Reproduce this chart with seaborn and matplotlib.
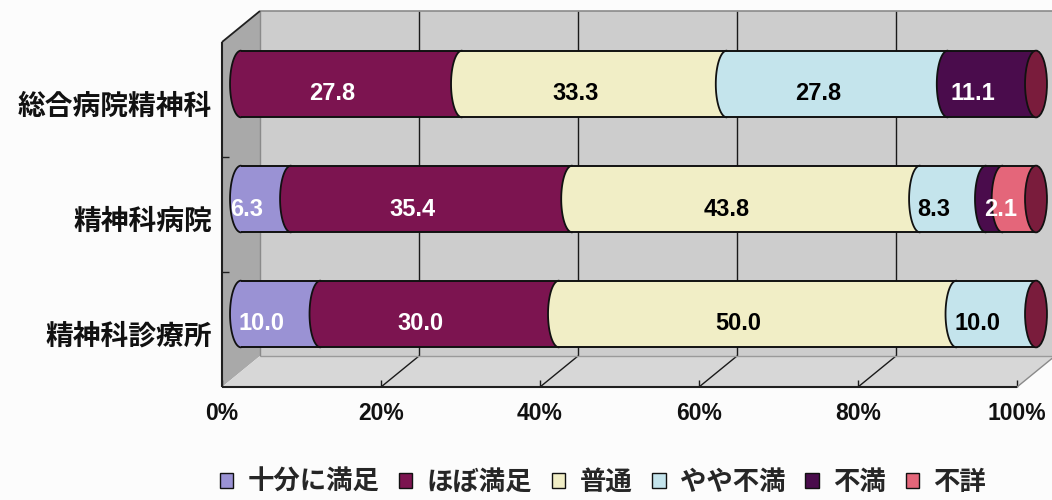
import numpy as np
import pandas as pd
import matplotlib
matplotlib.use("Agg")
import matplotlib.pyplot as plt
import matplotlib.transforms as mtrans
from matplotlib.patches import Polygon, Ellipse, Patch
import seaborn as sns

# ---- data -------------------------------------------------------------
categories = ["総合病院精神科", "精神科病院", "精神科診療所"]
series_names = ["十分に満足", "ほぼ満足", "普通", "やや不満", "不満", "不詳"]
very_satisfied = [0.0, 6.3, 10.0]
mostly_satisfied = [27.8, 35.4, 30.0]
neutral = [33.3, 43.8, 50.0]
somewhat_dissatisfied = [27.8, 8.3, 10.0]
dissatisfied = [11.1, 2.1, 0.0]
unknown = [0.0, 4.2, 0.0]
tick_values = [0, 20, 40, 60, 80, 100]
tick_labels = ["0%", "20%", "40%", "60%", "80%", "100%"]

# ---- style ------------------------------------------------------------
colors = ["#9a92d4", "#7c1450", "#f1eec6", "#c4e4ec", "#4a0c4c", "#e4667a"]
label_colors = ["white", "white", "black", "black", "white", "white"]
show_labels = [True, True, True, True, True, False]
cap_color = "#7a1c3c"

sns.set_style("white")
plt.rcParams["font.family"] = ["Noto Sans CJK JP", "DejaVu Sans"]
NUM_FONT = ["Liberation Sans", "DejaVu Sans"]

values = np.array([very_satisfied, mostly_satisfied, neutral,
                   somewhat_dissatisfied, dissatisfied, unknown])
shares = values / values.sum(axis=0) * 100.0   # 100% stacked
ends = np.cumsum(shares, axis=0)
starts = ends - shares

fig = plt.figure(figsize=(10.52, 5.0), dpi=100)
fig.patch.set_facecolor("#fcfcfc")
ax = fig.add_axes([241 / 1052, 1 - 371.5 / 500, 795 / 1052, 345 / 500])
ax.set_facecolor("none")

BAR_W = 0.58
# stacked bars: draw cumulative totals from the outermost series inward
for k in range(len(series_names) - 1, -1, -1):
    df = pd.DataFrame({"category": categories, "total": ends[k]})
    sns.barplot(data=df, x="total", y="category", color=colors[k],
                saturation=1, width=BAR_W, errorbar=None, linewidth=0,
                ax=ax, zorder=1)

ax.set_xlim(0, 100)
ax.set_ylim(2.5, -0.5)
ax.set_xlabel("")
ax.set_ylabel("")
for s in ax.spines.values():
    s.set_visible(False)

# ---- pseudo 3-D frame: back wall, side wall, floor ----------------------
DX, DY = 2.39, 0.135
y0, y1 = -0.5, 2.5
frame_kw = dict(closed=True, clip_on=False, linewidth=0)
ax.add_patch(Polygon([(DX, y0 - DY), (100 + DX, y0 - DY), (100 + DX, y1 - DY), (DX, y1 - DY)],
                     facecolor="#cdcdcd", zorder=0, **frame_kw))
ax.add_patch(Polygon([(-DX, y0 + DY), (DX, y0 - DY), (DX, y1 - DY), (-DX, y1 + DY)],
                     facecolor="#a9a9a9", zorder=0, **frame_kw))
ax.add_patch(Polygon([(-DX, y1 + DY), (100 - DX, y1 + DY), (100 + DX, y1 - DY), (DX, y1 - DY)],
                     facecolor="#d7d7d7", zorder=0, **frame_kw))

line_kw = dict(clip_on=False, solid_capstyle="butt")
for t in tick_values[1:-1]:
    ax.plot([t + DX, t + DX], [y0 - DY, y1 - DY], color="#1a1a1a", lw=1.0, zorder=0.5, **line_kw)
    ax.plot([t + DX, t - DX], [y1 - DY, y1 + DY], color="#1a1a1a", lw=1.0, zorder=0.5, **line_kw)
for t in tick_values:
    ax.plot([t - DX, t - DX], [y1 + DY, y1 + DY - 0.06], color="#1a1a1a", lw=1.0, zorder=0.5, **line_kw)
ax.plot([DX, 100 + DX], [y0 - DY, y0 - DY], color="#8a8a8a", lw=1.2, zorder=0.5, **line_kw)
ax.plot([DX, 100 + DX], [y1 - DY, y1 - DY], color="#9a9a9a", lw=1.0, zorder=0.5, **line_kw)
ax.plot([100 - DX, 100 + DX], [y1 + DY, y1 - DY], color="#8a8a8a", lw=1.0, zorder=0.5, **line_kw)
ax.plot([DX, DX], [y0 - DY, y1 - DY], color="#8a8a8a", lw=1.0, zorder=0.5, **line_kw)
ax.plot([-DX, DX], [y0 + DY, y0 - DY], color="#202020", lw=1.3, zorder=0.6, **line_kw)
ax.plot([-DX, -DX], [y0 + DY, y1 + DY], color="#202020", lw=1.5, zorder=0.6, **line_kw)
ax.plot([-DX, 100 - DX], [y1 + DY, y1 + DY], color="#202020", lw=1.5, zorder=0.6, **line_kw)
for yb in (0.5, 1.5):
    ax.plot([-DX, -DX + 0.9], [yb + DY, yb + DY], color="#202020", lw=1.0, zorder=0.6, **line_kw)

# ---- cylinder ends and segment seams -------------------------------------
A = 1.38            # half-width of the end ellipse, in percent units
B = BAR_W / 2
OVERLAP = 0.5       # seam patch reaches a little into its own segment
theta = np.linspace(np.pi / 2, 3 * np.pi / 2, 80)
for i in range(len(categories)):
    for k in range(len(series_names)):
        if shares[k, i] <= 0:
            continue
        x0 = starts[k, i]
        xs = x0 + A * np.cos(theta)
        ys = i + B * np.sin(theta)
        reach = min(OVERLAP, shares[k, i] * 0.5)
        poly = np.vstack([np.column_stack([xs, ys]),
                          [[x0 + reach, i - B], [x0 + reach, i + B]]])
        ax.add_patch(Polygon(poly, closed=True, facecolor=colors[k],
                             linewidth=0, zorder=2, clip_on=False))
        ax.plot(xs, ys, color="#111111", lw=1.3, zorder=3, clip_on=False)
    ax.plot([0, 100], [i - B, i - B], color="#111111", lw=1.4, zorder=3, **line_kw)
    ax.plot([0, 100], [i + B, i + B], color="#111111", lw=1.4, zorder=3, **line_kw)
    ax.add_patch(Ellipse((100, i), 2 * A, 2 * B, facecolor=cap_color, edgecolor="#111111",
                         lw=1.3, zorder=4, clip_on=False))

# ---- value labels -----------------------------------------------------------
val_off = mtrans.ScaledTranslation(-0.19, -0.10, fig.dpi_scale_trans)
for i in range(len(categories)):
    for k in range(len(series_names)):
        v = values[k, i]
        if v <= 0 or not show_labels[k]:
            continue
        if shares[k, i] < 3:
            x, ha = ends[k, i] + 0.1, "left"
        else:
            x, ha = starts[k, i] + shares[k, i] / 2, "center"
        ax.text(x, i, f"{v:.1f}", ha=ha, va="center", color=label_colors[k],
                fontsize=17, fontweight="bold", family=NUM_FONT,
                transform=ax.transData + val_off, zorder=5)

# ---- axis labels ---------------------------------------------------------
ax.set_xticks([])
ax.set_yticks([])
cat_off = mtrans.ScaledTranslation(-0.29, -0.225, fig.dpi_scale_trans)
for i, name in enumerate(categories):
    ax.text(0, i, name, ha="right", va="center", fontsize=20, fontweight="bold",
            color="#111111", transform=ax.transData + cat_off)
tick_off = mtrans.ScaledTranslation(-0.19, -0.42, fig.dpi_scale_trans)
for t, lab in zip(tick_values, tick_labels):
    ax.text(t, 2.5, lab, ha="center", va="center", fontsize=16.5, fontweight="bold",
            family=NUM_FONT, color="#111111", transform=ax.transData + tick_off)

# ---- legend ------------------------------------------------------------------
handles = [Patch(facecolor=c, edgecolor="#111111", linewidth=1.0) for c in colors]
fig.legend(handles, series_names, loc="center", bbox_to_anchor=(603 / 1052, 1 - 482 / 500),
           bbox_transform=fig.transFigure, ncol=6, frameon=False,
           prop={"weight": "bold", "size": 19}, handlelength=0.5, handleheight=0.5,
           handletextpad=0.55, columnspacing=0.75, borderaxespad=0, borderpad=0)

fig.savefig("out.png", dpi=100, facecolor=fig.get_facecolor())
